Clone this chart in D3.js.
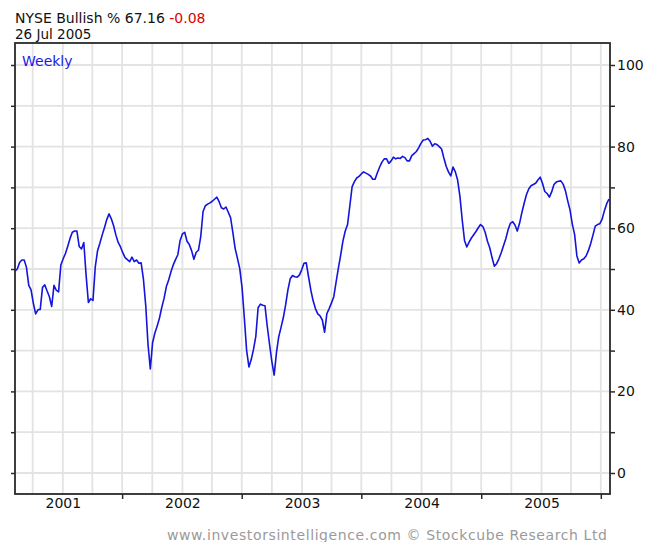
<!DOCTYPE html>
<html>
<head>
<meta charset="utf-8">
<script src="https://cdn.jsdelivr.net/npm/d3@7"></script>
<style>
  body { margin: 0; background: #fff; }
  text { font-family: "DejaVu Sans", Verdana, sans-serif; }
</style>
</head>
<body>
<svg id="chart" width="653" height="542"></svg>
<script>
// ---- data ----
const firstWeek = "2000-08-08";
const lastWeek = "2005-07-26";
const bullishValues = [
  49.5,50.0,51.6,52.2,52.2,50.4,46.0,44.9,41.6,39.0,
  40.0,40.1,45.5,46.1,44.6,43.2,40.8,46.0,44.8,44.4,
  51.0,52.5,53.8,55.6,57.5,59.0,59.3,59.3,55.5,54.9,
  56.5,48.5,41.8,42.7,42.3,50.5,54.5,56.3,58.3,60.1,
  62.1,63.5,62.3,60.6,58.3,56.5,55.4,54.0,52.8,52.3,
  51.8,52.9,51.8,52.2,51.4,51.5,47.5,41.1,31.5,25.5,
  32.0,34.3,36.0,38.0,40.6,42.8,45.7,47.3,49.3,51.0,
  52.3,53.5,57.0,58.6,59.0,56.8,56.0,54.5,52.4,54.1,
  54.6,58.0,64.1,65.5,65.9,66.2,66.6,67.1,67.6,66.5,
  65.0,64.7,65.2,63.9,62.6,58.9,55.0,52.6,50.1,45.5,
  38.0,30.0,26.0,27.8,30.3,33.5,40.5,41.4,41.1,41.0,
  35.9,31.5,27.3,24.0,29.5,33.4,35.7,38.1,41.2,44.9,
  47.6,48.4,48.1,48.0,48.5,49.8,51.4,51.5,48.1,44.8,
  42.2,40.3,39.0,38.5,37.5,34.5,39.1,40.3,41.7,43.2,
  46.8,50.2,53.4,56.9,59.3,60.9,65.5,70.2,71.4,72.3,
  72.7,73.3,73.8,73.5,73.2,72.8,72.0,72.0,73.6,75.0,
  76.2,77.0,77.0,75.9,76.5,77.4,77.0,77.2,77.1,77.6,
  77.3,76.5,76.5,77.8,78.3,78.8,79.7,80.8,81.6,81.7,
  82.0,81.3,80.1,80.7,80.5,80.0,79.4,77.2,75.2,73.8,
  72.8,75.0,73.8,71.8,67.8,62.0,57.0,55.4,56.6,57.6,
  58.4,59.2,60.1,60.9,60.4,59.0,56.8,55.2,52.8,50.7,
  51.3,52.5,54.0,55.7,57.4,59.6,61.2,61.6,60.8,59.3,
  61.2,63.8,66.1,68.2,69.6,70.4,70.7,71.0,71.8,72.5,
  71.0,69.0,68.5,67.6,68.9,70.7,71.3,71.5,71.6,70.8,
  69.2,66.7,64.5,61.0,58.5,53.2,51.5,52.2,52.5,53.2,
  54.5,56.2,58.3,60.5,60.9,61.1,62.2,64.3,66.0,67.16
];
const yTickValues = [0,10,20,30,40,50,60,70,80,90,100];
const yLabelValues = [0,20,40,60,80,100];
const yearLabels = ["2001","2002","2003","2004","2005"];
const titleText = "NYSE Bullish % 67.16 ";
const changeText = "-0.08";
const dateText = "26 Jul 2005";
const periodText = "Weekly";
const footerText = "www.investorsintelligence.com  \u00A9 Stockcube Research Ltd";

// ---- build ----
const parse = d3.timeParse("%Y-%m-%d");
const start = parse(firstWeek), end = parse(lastWeek);
const dates = d3.range(bullishValues.length).map(i => d3.timeWeek.offset(start, i));
const data = dates.map((d, i) => ({ date: d, value: bullishValues[i] }));

const frame = { left: 15, right: 610, top: 43, bottom: 494 };
const x = d3.scaleTime().domain([start, end]).range([15, 609]);
const y = d3.scaleLinear().domain([0, 100]).range([473, 65]);

const svg = d3.select("#chart");

// gridlines
const quarters = d3.timeMonth.every(3).range(d3.timeMonth.ceil(start), end);
const grid = svg.append("g").attr("stroke", "#e3e3e3").attr("stroke-width", 1.8);
grid.selectAll("line.v").data(quarters).join("line")
  .attr("x1", d => x(d)).attr("x2", d => x(d))
  .attr("y1", frame.top).attr("y2", frame.bottom);
grid.selectAll("line.h").data(yTickValues).join("line")
  .attr("x1", frame.left).attr("x2", frame.right)
  .attr("y1", d => y(d)).attr("y2", d => y(d));

// line
svg.append("path").datum(data)
  .attr("fill", "none")
  .attr("stroke", "#1414dc")
  .attr("stroke-width", 1.6)
  .attr("stroke-linejoin", "round")
  .attr("d", d3.line().x(d => x(d.date)).y(d => y(d.value)));

// frame
svg.append("rect")
  .attr("x", frame.left).attr("y", frame.top)
  .attr("width", frame.right - frame.left).attr("height", frame.bottom - frame.top)
  .attr("fill", "none").attr("stroke", "#2a2a2a").attr("stroke-width", 1.8);

// right axis
const rightAxis = svg.append("g").attr("transform", `translate(${frame.right},0)`)
  .call(d3.axisRight(y).tickValues(yTickValues)
    .tickFormat(d => yLabelValues.includes(d) ? d : "")
    .tickSize(5).tickPadding(2));
rightAxis.select(".domain").remove();
rightAxis.selectAll("line").attr("stroke", "#2a2a2a").attr("stroke-width", 1.5);
rightAxis.selectAll("text").attr("font-size", 14).attr("fill", "#111")
  .style("font-family", "'DejaVu Sans', Verdana, sans-serif");

// left ticks
const leftAxis = svg.append("g").attr("transform", `translate(${frame.left},0)`)
  .call(d3.axisLeft(y).tickValues(yTickValues).tickFormat("").tickSize(4));
leftAxis.select(".domain").remove();
leftAxis.selectAll("line").attr("stroke", "#2a2a2a").attr("stroke-width", 1.5);

// bottom ticks at mid-year
const julies = d3.timeYear.range(d3.timeYear.ceil(start), end)
  .map(d => d3.timeMonth.offset(d, 6)).filter(d => d <= end);
const bottomTicks = svg.append("g").attr("transform", `translate(0,${frame.bottom})`)
  .call(d3.axisBottom(x).tickValues(julies).tickFormat("").tickSize(5));
bottomTicks.select(".domain").remove();
bottomTicks.selectAll("line").attr("stroke", "#2a2a2a").attr("stroke-width", 1.5);

// year labels at Jan 1
const yearDates = yearLabels.map(l => new Date(+l, 0, 1));
const bottomLabels = svg.append("g").attr("transform", `translate(0,${frame.bottom})`)
  .call(d3.axisBottom(x).tickValues(yearDates).tickFormat((d, i) => yearLabels[i]).tickSize(0).tickPadding(4));
bottomLabels.select(".domain").remove();
bottomLabels.selectAll("text").attr("font-size", 14).attr("fill", "#111")
  .style("font-family", "'DejaVu Sans', Verdana, sans-serif");

// title
const t = svg.append("text").attr("x", 15).attr("y", 22.5).attr("font-size", 14).attr("fill", "#111");
t.append("tspan").text(titleText);
t.append("tspan").attr("fill", "#dd0000").text(changeText);
svg.append("text").attr("x", 15).attr("y", 38.5).attr("font-size", 13.5).attr("fill", "#111").text(dateText);

// period
svg.append("text").attr("x", 22).attr("y", 66).attr("font-size", 14).attr("fill", "#1a1ae6").text(periodText);

// footer
svg.append("text").attr("x", 167).attr("y", 540)
  .attr("textLength", 440).attr("lengthAdjust", "spacing")
  .attr("font-size", 14).attr("fill", "#9a9a9a").text(footerText);
</script>
</body>
</html>
